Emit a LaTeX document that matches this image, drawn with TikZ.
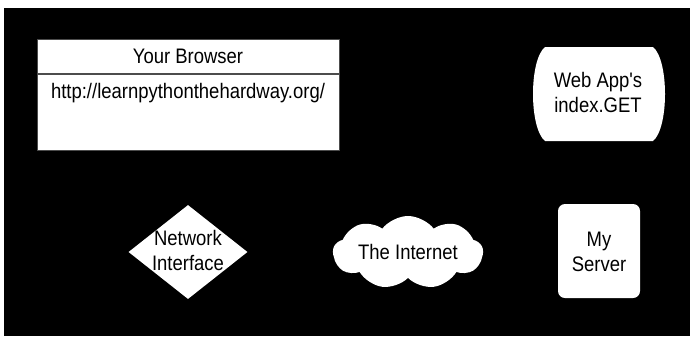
\documentclass[tikz,border=0pt]{standalone}
\usepackage{fontspec}
\newfontfamily\labelfont{Liberation Sans}[FakeStretch=0.88]
\usetikzlibrary{shapes.geometric,shapes.symbols}
\begin{document}
\begin{tikzpicture}[x=1pt,y=-1pt,
  lbl/.style={font=\labelfont\fontsize{21}{25}\selectfont, text=black, align=center, inner sep=0pt},
  whiteshape/.style={fill=white, draw=none, inner sep=0pt}]
\useasboundingbox (0,0) rectangle (690,338);
\fill[white] (0,0) rectangle (690,338);
\fill[black] (4,8) rectangle (690,336);
% browser
\node[whiteshape, draw=black!70, line width=0.8pt, anchor=north west,
      minimum width=302.5pt, minimum height=111.5pt] (browser) at (36.5,38.5) {};
\coordinate (divL) at (36.5,74);
\coordinate (divR) at (339,74);
\draw[black!70, line width=1.2pt] (divL) -- (divR);
\node[lbl] (title) at (188,56) {Your Browser};
\node[lbl, anchor=base] (url) at (188,98) {http://learnpythonthehardway.org/};
% web app
\coordinate (wa1) at (545,47);
\coordinate (wa2) at (653,47);
\coordinate (wa3) at (653,141);
\coordinate (wa4) at (545,141);
\fill[white] (wa1) -- (wa2) .. controls (669,60) and (669,128) .. (wa3)
   -- (wa4) .. controls (529,128) and (529,60) .. (wa1) -- cycle;
\node[lbl] (webapp) at (598,92) {Web App's\\index.GET};
% network interface
\node[whiteshape, diamond, minimum width=119pt, minimum height=94pt] (ni) at (188,252) {};
\node[lbl] (nitext) at (188,250) {Network\\Interface};
% internet
\node[whiteshape, cloud, cloud puffs=9, cloud puff arc=105, cloud ignores aspect,
      minimum width=150pt, minimum height=73pt] (net) at (408,252.5) {};
\node[lbl] (nettext) at (408,252) {The Internet};
% server
\node[whiteshape, rectangle, rounded corners=7pt, minimum width=82pt, minimum height=94pt]
   (srv) at (599,251) {};
\node[lbl] (srvtext) at (599,252) {My\\Server};
\end{tikzpicture}
\end{document}
